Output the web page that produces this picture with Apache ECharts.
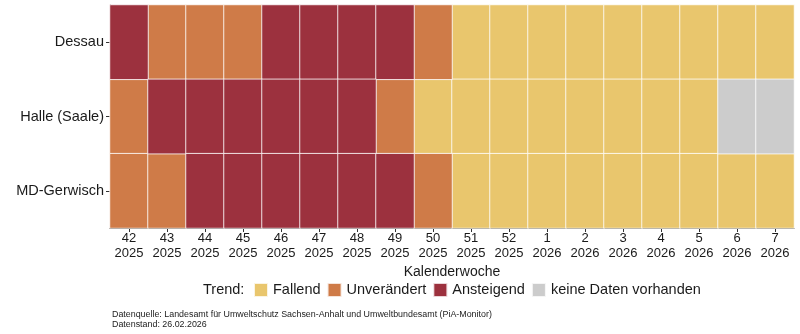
<!DOCTYPE html>
<html><head><meta charset="utf-8">
<script src="https://cdn.jsdelivr.net/npm/echarts@6/dist/echarts.min.js"></script>
<style>html,body{margin:0;padding:0;background:#fff}#c{width:800px;height:334px}</style>
</head><body><div id="c"></div>
<script>
const weeks = ['42\n2025','43\n2025','44\n2025','45\n2025','46\n2025','47\n2025','48\n2025','49\n2025','50\n2025','51\n2025','52\n2025','1\n2026','2\n2026','3\n2026','4\n2026','5\n2026','6\n2026','7\n2026'];
const sites = ['Dessau','Halle (Saale)','MD-Gerwisch'];
// F = Fallend, U = Unverändert, A = Ansteigend, N = keine Daten vorhanden
const dessau = ['A','U','U','U','A','A','A','A','U','F','F','F','F','F','F','F','F','F'];
const halle  = ['U','A','A','A','A','A','A','U','F','F','F','F','F','F','F','F','N','N'];
const gerwisch = ['U','U','A','A','A','A','A','A','U','F','F','F','F','F','F','F','F','F'];
const trendCodes = ['F','U','A','N'];
const trendNames = ['Fallend','Unverändert','Ansteigend','keine Daten vorhanden'];
const trendColors = ['#E9C66D','#CF7B48','#9C313E','#CCCCCC'];

const rows = [dessau, halle, gerwisch];
const series = trendCodes.map((code, k) => {
  const data = [];
  rows.forEach((r, yi) => r.forEach((v, xi) => { if (v === code) data.push([xi, yi, 1]); }));
  return {
    name: trendNames[k], type: 'heatmap', data,
    itemStyle: { color: trendColors[k], borderColor: 'rgba(255,255,255,0.8)', borderWidth: 1 },
    emphasis: { disabled: true }
  };
});

const chart = echarts.init(document.getElementById('c'), null, { renderer: 'canvas' });
const font = 'Liberation Sans, Arial, sans-serif';
chart.setOption({
  animation: false,
  textStyle: { fontFamily: font },
  grid: { left: 110, right: 6, top: 5, bottom: 106 },
  xAxis: {
    type: 'category', data: weeks, name: 'Kalenderwoche', nameLocation: 'middle', nameGap: 33,
    nameTextStyle: { fontSize: 14, color: '#1a1a1a', fontFamily: font },
    axisLine: { lineStyle: { color: '#222', width: 1 } },
    axisTick: { show: true, alignWithLabel: true, length: 4, lineStyle: { color: '#333' } },
    axisLabel: { fontSize: 13, color: '#1a1a1a', lineHeight: 15, margin: 2.5, fontFamily: font, interval: 0 },
    splitLine: { show: false }
  },
  yAxis: {
    type: 'category', data: sites, inverse: true,
    axisLine: { lineStyle: { color: '#222', width: 1 } },
    axisTick: { show: true, alignWithLabel: true, length: 4, lineStyle: { color: '#333' } },
    axisLabel: { fontSize: 14.5, color: '#1a1a1a', margin: 6, fontFamily: font },
    splitLine: { show: false }
  },
  legend: {
    data: trendNames, left: 253, top: 282, itemWidth: 14, itemHeight: 14, itemGap: 6,
    padding: 0, icon: 'rect', textStyle: { fontSize: 14.5, color: '#1a1a1a', fontFamily: font }
  },
  graphic: [
    { type: 'text', x: 203, y: 282, style: { text: 'Trend:', fontSize: 14.5, fill: '#1a1a1a', fontFamily: font, textVerticalAlign: 'top' } },
    { type: 'text', x: 112, y: 310, style: { text: 'Datenquelle: Landesamt für Umweltschutz Sachsen-Anhalt und Umweltbundesamt (PiA-Monitor)\nDatenstand: 26.02.2026', fontSize: 8.9, lineHeight: 10, fill: '#222', fontFamily: font } }
  ],
  series
});
</script></body></html>
